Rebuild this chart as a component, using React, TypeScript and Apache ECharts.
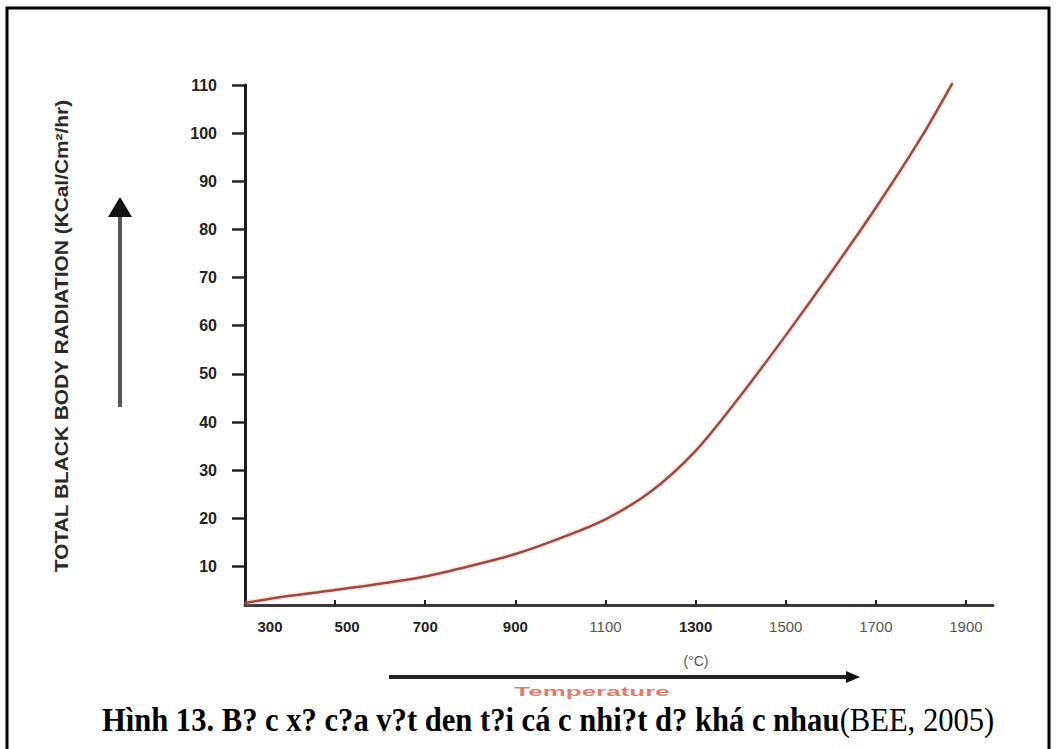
import React, { useEffect, useRef } from "react";
import * as echarts from "echarts";

// Temperature (°C) and total black body radiation (kCal/cm²/hr)
const temperatures = [300, 400, 500, 600, 700, 800, 900, 1000, 1100, 1200, 1300, 1400, 1500, 1600, 1700, 1800, 1870];
const radiation = [2.4, 3.9, 5.1, 6.4, 7.9, 10.1, 12.6, 15.9, 19.8, 25.5, 34.0, 45.5, 58.0, 71.0, 84.5, 99.0, 110.4];

const xTickLabels = [300, 500, 700, 900, 1100, 1300, 1500, 1700, 1900];
const xTickMarks = [500, 700, 900, 1100, 1300, 1500, 1700, 1900];
const yTickLabels = [10, 20, 30, 40, 50, 60, 70, 80, 90, 100, 110];

const yTitle = "TOTAL BLACK BODY RADIATION (KCal/Cm²/hr)";
const xUnit = "(°C)";
const xTitle = "Temperature";
const captionBold = "Hình 13. B? c x? c?a v?t den t?i cá c nhi?t d? khá c nhau";
const captionNormal = "(BEE, 2005)";

export default function App() {
  const ref = useRef<HTMLDivElement>(null);

  useEffect(() => {
    if (!ref.current) return;
    const chart = echarts.init(ref.current, null, { renderer: "svg" });
    const boldLabels = new Set([300, 500, 700, 900, 1300]);
    chart.setOption({
      animation: false,
      backgroundColor: "#ffffff",
      grid: { left: 245, right: 64, top: 85, bottom: 144, outerBoundsMode: "none" },
      xAxis: {
        type: "value",
        min: 300,
        max: 1960,
        splitLine: { show: false },
        axisLine: { onZero: false, lineStyle: { color: "#3a3a3a", width: 3 } },
        axisTick: {
          inside: true,
          length: 5,
          customValues: xTickMarks,
          lineStyle: { color: "#222", width: 2 },
        },
        axisLabel: {
          customValues: xTickLabels,
          margin: 14,
          fontSize: 15,
          fontFamily: "Liberation Sans, Arial, sans-serif",
          color: "#333",
          formatter: (v: number) => {
            if (v === 300) return "{s300|" + v + "}";
            if (v === 500) return "{s500|" + v + "}";
            return boldLabels.has(v) ? "{b|" + v + "}" : "{n|" + v + "}";
          },
          rich: {
            s300: { fontWeight: "bold", fontSize: 15, color: "#222", padding: [0, 0, 0, 50] },
            s500: { fontWeight: "bold", fontSize: 15, color: "#222", padding: [0, 0, 0, 24] },
            b: { fontWeight: "bold", fontSize: 15, color: "#222" },
            n: { fontWeight: "normal", fontSize: 15, color: "#555" },
          },
        },
      },
      yAxis: {
        type: "value",
        min: 2,
        max: 110,
        splitLine: { show: false },
        axisLine: { show: true, onZero: false, lineStyle: { color: "#1a1a1a", width: 3 } },
        axisTick: {
          show: true,
          inside: false,
          length: 13,
          customValues: yTickLabels,
          lineStyle: { color: "#222", width: 2.5 },
        },
        axisLabel: {
          customValues: yTickLabels,
          margin: 28,
          fontSize: 16,
          fontWeight: "bold",
          fontFamily: "Liberation Sans, Arial, sans-serif",
          color: "#222",
        },
      },
      series: [
        {
          type: "line",
          data: temperatures.map((t, i) => [t, radiation[i]]),
          symbol: "none",
          smooth: 0.3,
          clip: false,
          lineStyle: {
            color: "#9b4a44",
            width: 2.5,
            shadowColor: "rgba(235,160,130,0.7)",
            shadowBlur: 3,
          },
        },
      ],
      graphic: [
        {
          type: "rect",
          shape: { x: 7, y: 8, width: 1042, height: 770 },
          style: { fill: "none", stroke: "#000", lineWidth: 3 },
          silent: true,
        },
        {
          type: "line",
          shape: { x1: 120, y1: 407, x2: 120, y2: 214 },
          style: { stroke: "#555", lineWidth: 4 },
        },
        {
          type: "polygon",
          shape: { points: [[120, 197], [108, 217], [132, 217]] },
          style: { fill: "#111" },
        },
        {
          type: "line",
          shape: { x1: 389, y1: 677, x2: 850, y2: 677 },
          style: { stroke: "#222", lineWidth: 4 },
        },
        {
          type: "polygon",
          shape: { points: [[860, 677], [846, 671], [846, 683]] },
          style: { fill: "#111" },
        },
        {
          type: "text",
          x: 62,
          y: 336,
          rotation: Math.PI / 2,
          scaleX: 1.16,
          style: {
            text: yTitle,
            x: 0,
            y: 0,
            align: "center",
            verticalAlign: "middle",
            fontSize: 18,
            fontWeight: "bold",
            fontFamily: "Liberation Sans, Arial, sans-serif",
            fill: "#2a2a2a",
          },
        },
        {
          type: "text",
          x: 696,
          y: 661,
          style: {
            text: xUnit,
            x: 0,
            y: 0,
            align: "center",
            verticalAlign: "middle",
            fontSize: 14,
            fontFamily: "Liberation Sans, Arial, sans-serif",
            fill: "#555",
          },
        },
        {
          type: "text",
          x: 592,
          y: 691,
          scaleX: 2.0,
          style: {
            text: xTitle,
            x: 0,
            y: 0,
            align: "center",
            verticalAlign: "middle",
            fontSize: 13,
            fontWeight: "bold",
            fontFamily: "Liberation Sans, Arial, sans-serif",
            fill: "#d8806f",
          },
        },
        {
          type: "text",
          x: 548,
          y: 719,
          scaleX: 0.9,
          style: {
            text: "{b|" + captionBold + "}{n|" + captionNormal + "}",
            x: 0,
            y: 0,
            align: "center",
            verticalAlign: "middle",
            fontSize: 34,
            fontFamily: "Liberation Serif, Times New Roman, serif",
            fill: "#000",
            rich: {
              b: { fontSize: 34, fontWeight: "bold", fontFamily: "Liberation Serif, Times New Roman, serif", fill: "#000" },
              n: { fontSize: 34, fontWeight: "normal", fontFamily: "Liberation Serif, Times New Roman, serif", fill: "#000" },
            },
          },
        },
      ],
    });
    return () => chart.dispose();
  }, []);

  return (
    <div
      ref={ref}
      style={{ position: "fixed", left: 0, top: 0, width: 1057, height: 749 }}
    />
  );
}
